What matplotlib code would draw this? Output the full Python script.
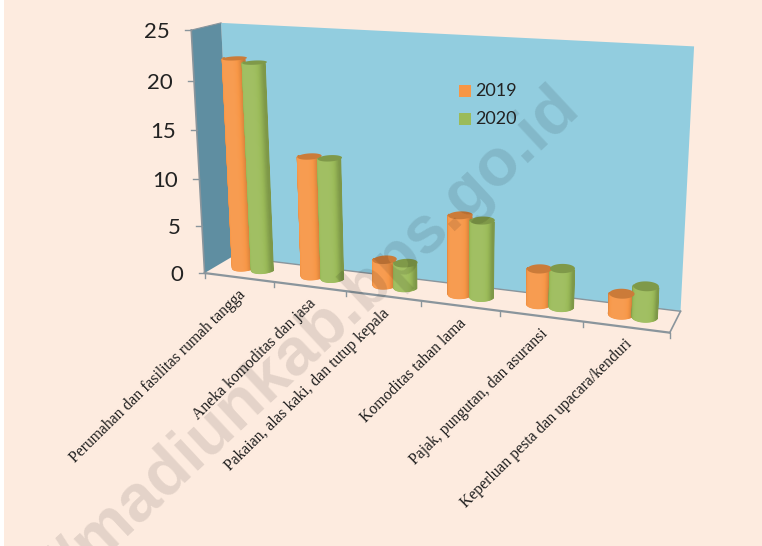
from __future__ import annotations

import matplotlib
matplotlib.use("Agg")
import matplotlib.pyplot as plt
from matplotlib.patches import Polygon
import numpy as np

W, H = 762, 546

categories = [
    "Perumahan dan fasilitas rumah tangga",
    "Aneka komoditas dan jasa",
    "Pakaian, alas kaki, dan tutup kepala",
    "Komoditas tahan lama",
    "Pajak, pungutan, dan asuransi",
    "Keperluan pesta dan upacara/kenduri",
]
values_2019 = [21.9, 12.5, 2.6, 8.0, 3.5, 2.0]
values_2020 = [21.6, 12.5, 2.5, 7.7, 3.8, 3.0]
y_ticks = [0, 5, 10, 15, 20, 25]

BG = "#fdebdf"
WALL = "#92cddf"
SIDE = "#5f8ea1"
ORANGE = "#f79646"
GREEN = "#9bbb59"
AXIS = "#8a959c"

# picture position of known chart points: (category, depth, value) -> pixel
CALIB = [
    (0, 0, 0, 205, 272), (1, 0, 0, 275, 281), (2, 0, 0, 347, 291),
    (3, 0, 0, 422, 301), (4, 0, 0, 501, 311), (5, 0, 0, 583, 322),
    (6, 0, 0, 669, 333), (0, 0, 5, 200.5, 226), (0, 0, 10, 198, 179.3),
    (0, 0, 15, 196, 130.7), (0, 0, 20, 194, 81), (0, 0, 25, 191.7, 30.7),
    (0, 1, 0, 232, 257), (6, 1, 0, 680, 312), (6, 1, 25, 694, 45),
    (0, 1, 25, 222, 23),
]


def fit_projection(points):
    rows = []
    for c, d, v, x, y in points:
        p = [c, d, v, 1.0]
        rows.append(p + [0, 0, 0, 0] + [-x * q for q in p])
        rows.append([0, 0, 0, 0] + p + [-y * q for q in p])
    _, _, vt = np.linalg.svd(np.array(rows, dtype=float))
    return vt[-1].reshape(3, 4)


P = fit_projection(CALIB)


def project(c, d, v):
    c, d, v = np.broadcast_arrays(c, d, v)
    pts = np.stack([c, d, v, np.ones_like(c, dtype=float)], axis=-1)
    out = pts @ P.T
    return out[..., 0] / out[..., 2], out[..., 1] / out[..., 2]


def quad(ax, corners, **kw):
    xs, ys = project(*np.array(corners, dtype=float).T)
    ax.add_patch(Polygon(np.column_stack([xs, ys]), closed=True, **kw))


def shade(color, factor):
    rgb = np.array(matplotlib.colors.to_rgb(color))
    if factor > 1:
        return tuple(rgb + (1 - rgb) * (factor - 1))
    return tuple(rgb * factor)


def cylinder(ax, c, value, color):
    # lit from the middle, darker towards both silhouette edges
    rc, rd, dc = 0.145, 0.24, 0.55
    angles = np.linspace(np.pi, 2 * np.pi, 41)
    for a0, a1 in zip(angles[:-1], angles[1:]):
        mid = (a0 + a1) / 2
        edge = abs(np.cos(mid))
        factor = 1.06 - 0.25 * edge**5
        cs = c + rc * np.cos([a0, a1, a1, a0])
        ds = dc + rd * np.sin([a0, a1, a1, a0])
        vs = np.array([0, 0, value, value], dtype=float)
        xs, ys = project(cs, ds, vs)
        col = shade(color, factor)
        ax.add_patch(Polygon(np.column_stack([xs, ys]), closed=True, fc=col, ec=col, lw=0.9, zorder=3))
    t = np.linspace(0, 2 * np.pi, 60)
    xs, ys = project(c + rc * np.cos(t), dc + rd * np.sin(t), value)
    ax.add_patch(Polygon(np.column_stack([xs, ys]), closed=True, fc=shade(color, 0.82), ec="none", zorder=4))


fig = plt.figure(figsize=(W / 100, H / 100), dpi=100, facecolor="white")
ax = fig.add_axes([0, 0, 1, 1])
ax.set_xlim(0, W)
ax.set_ylim(H, 0)
ax.axis("off")
ax.add_patch(plt.Rectangle((4, 0), W - 4, H, fc=BG, ec="none", zorder=0))

n = len(categories)
quad(ax, [(0, 1, 0), (n, 1, 0), (n, 1, 25), (0, 1, 25)], fc=WALL, ec="none", zorder=1)
quad(ax, [(0, 0, 0), (0, 1, 0), (0, 1, 25), (0, 0, 25)], fc=SIDE, ec="none", zorder=1)

# axis lines and ticks
xs, ys = project(np.array([0.0, n]), 0.0, 0.0)
ax.plot(xs, ys, color=AXIS, lw=1.6, zorder=2)
xs, ys = project(np.array([n, n]), np.array([0.0, 1.0]), 0.0)
ax.plot(xs, ys, color=AXIS, lw=1.2, zorder=2)
xs, ys = project(np.array([0, n]), 1.0, 0.0)
ax.plot(xs, ys, color=AXIS, lw=1.0, zorder=2)
xs, ys = project(0.0, 0.0, np.array([0.0, 25.0]))
ax.plot(xs, ys, color=AXIS, lw=1.2, zorder=2)
xs, ys = project(np.array([0.0, 0.0]), np.array([0.0, 1.0]), 25.0)
ax.plot(xs, ys, color=AXIS, lw=0.8, zorder=2)
for i in range(n + 1):
    x, y = project(float(i), 0.0, 0.0)
    ax.plot([x, x], [y, y + 5], color=AXIS, lw=1.0, zorder=2)
for tick in y_ticks:
    x, y = project(0.0, 0.0, float(tick))
    ax.plot([x - 6, x], [y, y], color=AXIS, lw=1.0, zorder=2)
    ax.text(x - 21, y + 2, str(tick), ha="right", va="center", fontsize=16, family="Lato", color="#222222", zorder=5)

for i, (a, b) in enumerate(zip(values_2019, values_2020)):
    cylinder(ax, i + 0.36, a, ORANGE)
    cylinder(ax, i + 0.64, b, GREEN)

for i, label in enumerate(categories):
    x, y = project(i + 0.5, 0.0, 0.0)
    ax.text(x + 4, y + 15, label, rotation=44.5, rotation_mode="anchor", ha="right", va="center",
            fontsize=11.3, family="Liberation Serif", color="#1c1c1c", zorder=5)

# legend sits on the wall
for label, color, ly in (("2019", ORANGE, 91), ("2020", GREEN, 119)):
    ax.add_patch(plt.Rectangle((459, ly - 6), 12, 12, fc=color, ec="none", zorder=5))
    ax.text(475, ly, label, ha="left", va="center", fontsize=13, family="Lato", color="#222222", zorder=5)

# site watermark over everything, runs off the bottom edge
ax.text(582, 112, "//madiunkab.bps.go.id", rotation=43, rotation_mode="anchor", ha="right", va="baseline",
        fontsize=48, fontweight="bold", family="Liberation Sans", color="black", alpha=0.1, zorder=6, clip_on=True)

fig.savefig("out.png", dpi=100, facecolor="white")
plt.close(fig)
